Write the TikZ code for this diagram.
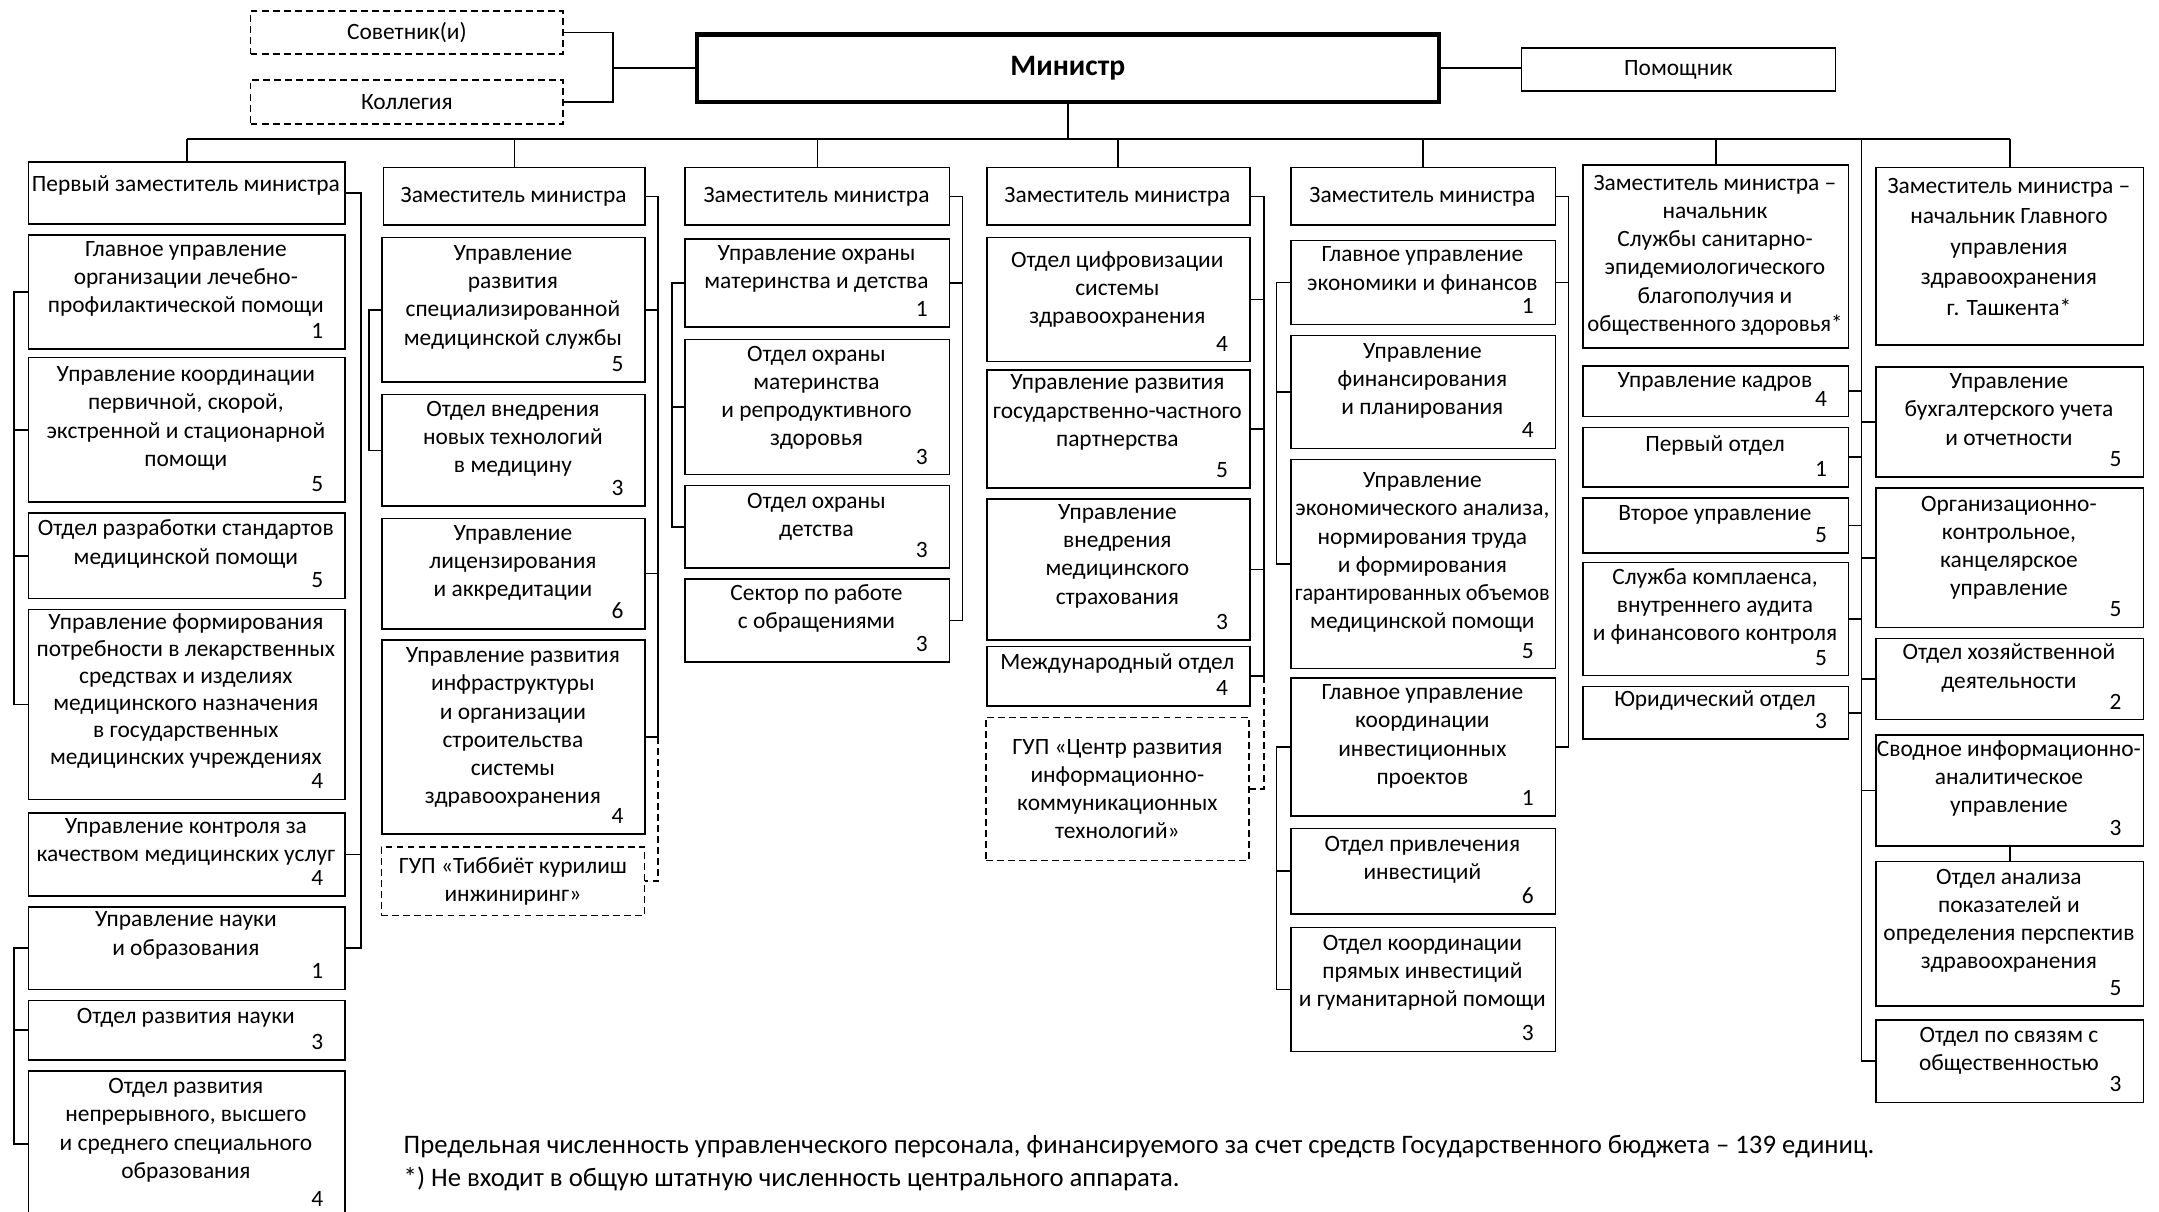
\documentclass[tikz,border=0pt]{standalone}
\usepackage{fontspec}
\usepackage{graphicx}
\setmainfont{Carlito}
\newcommand\orgbox[8]{%
  \node[box, minimum width={#4-#2}, minimum height={#5-#3}, anchor=north west] (#1) at (#2,#3) {};
  \node[txt, anchor=north] at ({(#2+#4)/2},{#6-14.35}) {\strut#7};
  \node[num, anchor=base east] at ({#4-15},{#5-7}) {#8};
}
\newcommand\cbox[7]{%
  \node[#1, txt, minimum width={#5-#3}, minimum height={#6-#4}] (#2) at ({(#3+#5)/2},{(#4+#6)/2}) {#7};
}
\begin{document}
\begin{tikzpicture}[x=1pt,y=-1pt,
  box/.style={draw, line width=1.2pt, rectangle, inner sep=0pt},
  dbox/.style={box, dash pattern=on 5pt off 3pt},
  txt/.style={align=center, inner sep=0pt, font=\fontsize{17}{20.5}\selectfont},
  num/.style={inner sep=0pt, font=\fontsize{17}{20.5}\selectfont},
  topt/.style={font=\fontsize{19}{22}\selectfont},
  foot/.style={inner sep=0pt, font=\fontsize{19.4}{24}\selectfont},
  ln/.style={line width=1.2pt},
  dln/.style={line width=1.2pt, dash pattern=on 5pt off 3pt},
]
\useasboundingbox[fill=white] (0,0) rectangle (1568,880);

% top
\cbox{dbox,topt}{sov}{182}{8}{409}{39}{Советник(и)}
\cbox{dbox,topt}{kol}{182}{58}{409}{90}{Коллегия}
\node[box, line width=3.2pt, minimum width=539, minimum height=49, font=\fontsize{21.5}{24}\selectfont\bfseries] (min) at (775.5,49.5) {Министр};
\cbox{box,topt}{pom}{1105}{35}{1333}{66}{Помощник}

% deputies
\orgbox{c1h}{20}{117}{250}{162}{139}{Первый заместитель министра}{}
\orgbox{c2h}{278}{121}{468}{163}{147}{Заместитель министра}{}
\orgbox{c3h}{497}{121}{689}{163}{147}{Заместитель министра}{}
\orgbox{c4h}{716}{121}{907}{163}{147}{Заместитель министра}{}
\orgbox{c5h}{937}{121}{1129}{163}{147}{Заместитель министра}{}
\orgbox{c6h}{1149}{119}{1342}{252}{138}{Заместитель министра –\\начальник\\Службы санитарно-\\эпидемиологического\\благополучия и\\\scalebox{0.97}[1]{общественного здоровья*}}{}
\node[box, minimum width=194, minimum height=129, anchor=north west] (c7h) at (1362,121) {};
\node[txt, font=\fontsize{17}{22.2}\selectfont, anchor=north] at (1459,{140-15.54}) {\strut Заместитель министра –\\начальник Главного\\управления\\здравоохранения\\г. Ташкента*};

% column 1
\orgbox{c1a}{20}{170}{250}{253}{186}{Главное управление\\организации лечебно-\\профилактической помощи}{1}
\orgbox{c1b}{20}{259}{250}{364}{277}{Управление координации\\первичной, скорой,\\экстренной и стационарной\\помощи}{5}
\orgbox{c1c}{20}{372}{250}{434}{389}{Отдел разработки стандартов\\медицинской помощи}{5}
\node[box, minimum width=230, minimum height=138, anchor=north west] (c1d) at (20,442) {};
\node[txt, font=\fontsize{17}{19.6}\selectfont, anchor=north] at (135,{457-13.72}) {\strut Управление формирования\\потребности в лекарственных\\средствах и изделиях\\медицинского назначения\\в государственных\\медицинских учреждениях};
\node[num, anchor=base east] at (235,573) {4};
\orgbox{c1e}{20}{590}{250}{650}{605}{Управление контроля за\\качеством медицинских услуг}{4}
\orgbox{c1f}{20}{658}{250}{718}{673}{Управление науки\\и образования}{1}
\orgbox{c1g}{20}{726}{250}{769}{743}{Отдел развития науки}{3}
\orgbox{c1h2}{20}{777}{250}{883}{794}{Отдел развития\\непрерывного, высшего\\и среднего специального\\образования}{4}

% column 2
\orgbox{c2a}{277}{172}{468}{277}{189}{Управление\\развития\\специализированной\\медицинской службы}{5}
\orgbox{c2b}{277}{286}{468}{367}{302}{Отдел внедрения\\новых технологий\\в медицину}{3}
\orgbox{c2c}{277}{376}{468}{456}{392}{Управление\\лицензирования\\и аккредитации}{6}
\orgbox{c2d}{277}{464}{468}{605}{481}{Управление развития\\инфраструктуры\\и организации\\строительства\\системы\\здравоохранения}{4}
\cbox{dbox}{c2g}{277}{615}{468}{665}{ГУП «Тиббиёт курилиш\\инжиниринг»}

% column 3
\orgbox{c3a}{497}{173}{689}{237}{189}{Управление охраны\\материнства и детства}{1}
\orgbox{c3b}{497}{246}{689}{344}{262}{Отдел охраны\\материнства\\и репродуктивного\\здоровья}{3}
\orgbox{c3c}{497}{352}{689}{412}{369}{Отдел охраны\\детства}{3}
\orgbox{c3d}{497}{420}{689}{480}{436}{Сектор по работе\\с обращениями}{3}

% column 4
\orgbox{c4a}{716}{172}{907}{262}{194}{Отдел цифровизации\\системы\\здравоохранения}{4}
\orgbox{c4b}{716}{268}{907}{354}{283}{Управление развития\\государственно-частного\\партнерства}{5}
\orgbox{c4c}{716}{362}{907}{464}{377}{Управление\\внедрения\\медицинского\\страхования}{3}
\orgbox{c4d}{716}{469}{907}{512}{486}{Международный отдел}{4}
\cbox{dbox}{c4g}{716}{521}{907}{625}{ГУП «Центр развития\\информационно-\\коммуникационных\\технологий»}

% column 5
\orgbox{c5a}{937}{174}{1129}{235}{190}{Главное управление\\экономики и финансов}{1}
\orgbox{c5b}{937}{243}{1129}{325}{260}{Управление\\финансирования\\и планирования}{4}
\orgbox{c5c}{937}{333}{1129}{485}{354}{Управление\\экономического анализа,\\нормирования труда\\и формирования\\\scalebox{0.95}[1]{гарантированных объемов}\\медицинской помощи}{5}
\orgbox{c5d}{937}{492}{1129}{592}{508}{Главное управление\\координации\\инвестиционных\\проектов}{1}
\orgbox{c5e}{937}{601}{1129}{663}{618}{Отдел привлечения\\инвестиций}{6}
\orgbox{c5f}{937}{673}{1129}{763}{690}{Отдел координации\\прямых инвестиций\\и гуманитарной помощи}{3}

% column 6
\orgbox{c6a}{1149}{265}{1342}{302}{281}{Управление кадров}{4}
\orgbox{c6b}{1149}{310}{1342}{353}{328}{Первый отдел}{1}
\orgbox{c6c}{1149}{361}{1342}{401}{378}{Второе управление}{5}
\orgbox{c6d}{1149}{408}{1342}{490}{424}{Служба комплаенса,\\внутреннего аудита\\и финансового контроля}{5}
\orgbox{c6e}{1149}{498}{1342}{536}{513}{Юридический отдел}{3}

% column 7
\orgbox{c7a}{1362}{266}{1556}{346}{282}{Управление\\бухгалтерского учета\\и отчетности}{5}
\orgbox{c7b}{1362}{354}{1556}{455}{371}{Организационно-\\контрольное,\\канцелярское\\управление}{5}
\orgbox{c7c}{1362}{463}{1556}{522}{479}{Отдел хозяйственной\\деятельности}{2}
\orgbox{c7d}{1362}{533}{1556}{614}{549}{Сводное информационно-\\аналитическое\\управление}{3}
\orgbox{c7e}{1362}{625}{1556}{730}{642}{Отдел анализа\\показателей и\\определения перспектив\\здравоохранения}{5}
\orgbox{c7f}{1362}{740}{1556}{800}{757}{Отдел по связям с\\общественностью}{3}

% footnote
\node[foot, anchor=base west] (fn1) at (293,838) {Предельная численность управленческого персонала, финансируемого за счет средств Государственного бюджета – 139 единиц.};
\node[foot, anchor=base west] (fn2) at (293,862) {*) Не входит в общую штатную численность центрального аппарата.};

% ---------- connectors ----------
\coordinate (adv) at (445,0);
\draw[ln] (sov.east) -- (sov.east -| adv) -- (kol.east -| adv) -- (kol.east);
\draw[ln] (min.west) -- (min.west -| adv);
\draw[ln] (min.east) -- (min.east -| pom.west);

\coordinate (busy) at (0,101);
\draw[ln] (min.south) -- (min.south |- busy);
\draw[ln] (c1h.north |- busy) -- (c7h.north |- busy);
\foreach \n in {c1h,c2h,c3h,c4h,c5h,c6h,c7h}
  \draw[ln] (\n.north) -- (\n.north |- busy);

% right bars
\coordinate (r1) at (262,0);
\draw[ln] (c1h.east) -- (c1h.east -| r1) -- (c1f.east -| r1) -- (c1f.east);
\draw[ln] (c1e.east) -- (c1e.east -| r1);
\coordinate (r2) at (478,0);
\draw[ln] (c2h.east) -- (c2h.east -| r2) -- (c2d.east -| r2) -- (c2d.east);
\foreach \n in {c2a,c2c} \draw[ln] (\n.east) -- (\n.east -| r2);
\draw[dln] (c2d.east -| r2) -- (c2g.east -| r2) -- (c2g.east);
\coordinate (r3) at (699,0);
\draw[ln] (c3h.east) -- (c3h.east -| r3) -- (c3d.east -| r3) -- (c3d.east);
\draw[ln] (c3a.east) -- (c3a.east -| r3);
\coordinate (r4) at (918,0);
\draw[ln] (c4h.east) -- (c4h.east -| r4) -- (c4d.east -| r4) -- (c4d.east);
\foreach \n in {c4a,c4b,c4c} \draw[ln] (\n.east) -- (\n.east -| r4);
\draw[dln] (c4d.east -| r4) -- (c4g.east -| r4) -- (c4g.east);
\coordinate (r5) at (1139,0);
\draw[ln] (c5h.east) -- (c5h.east -| r5) -- (c5d.east -| r5) -- (c5d.east);
\draw[ln] (c5a.east) -- (c5a.east -| r5);

% left bars
\coordinate (l1) at (10,0);
\draw[ln] (c1a.west) -- (c1a.west -| l1) -- (c1d.west -| l1) -- (c1d.west);
\foreach \n in {c1b,c1c} \draw[ln] (\n.west) -- (\n.west -| l1);
\draw[ln] (c1f.west) -- (c1f.west -| l1) -- (c1h2.west -| l1) -- (c1h2.west);
\draw[ln] (c1g.west) -- (c1g.west -| l1);
\coordinate (l2) at (268,0);
\draw[ln] (c2a.west) -- (c2a.west -| l2) -- (c2b.west -| l2) -- (c2b.west);
\coordinate (l3) at (488,0);
\draw[ln] (c3a.west) -- (c3a.west -| l3) -- (c3c.west -| l3) -- (c3c.west);
\draw[ln] (c3b.west) -- (c3b.west -| l3);
\coordinate (l5) at (927,0);
\draw[ln] (c5a.west) -- (c5a.west -| l5) -- (c5c.west -| l5) -- (c5c.west);
\draw[ln] (c5b.west) -- (c5b.west -| l5);
\draw[ln] (c5d.west) -- (c5d.west -| l5) -- (c5f.west -| l5) -- (c5f.west);
\draw[ln] (c5e.west) -- (c5e.west -| l5);

% central line for columns 6 and 7
\coordinate (r6) at (1352,0);
\draw[ln] (r6 |- busy) -- (c7f.west -| r6) -- (c7f.west);
\foreach \n in {c6a,c6b,c6c,c6d,c6e} \draw[ln] (\n.east) -- (\n.east -| r6);
\foreach \n in {c7a,c7b,c7c,c7d} \draw[ln] (\n.west) -- (\n.west -| r6);
\draw[ln] (c7d.south) -- (c7e.north);
\end{tikzpicture}
\end{document}
